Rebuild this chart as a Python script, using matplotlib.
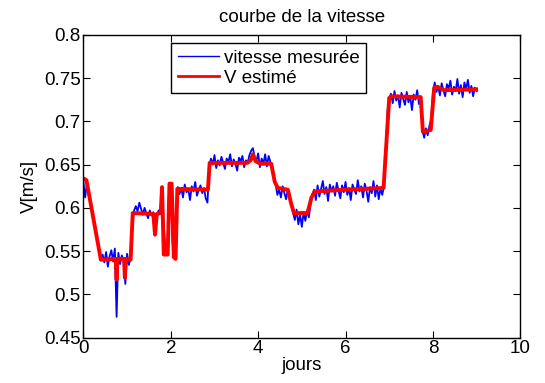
import numpy as np
import matplotlib
matplotlib.use("Agg")
import matplotlib.pyplot as plt

plt.rcParams['font.family'] = ['Liberation Sans', 'DejaVu Sans']

# Measured speed, one sample every 0.04 day
dt = 0.04
vitesse_mesuree = [
    0.630, 0.612, 0.628, 0.618, 0.607, 0.596, 0.584, 0.572, 0.562, 0.550,
    0.541, 0.546, 0.537, 0.549, 0.532, 0.544, 0.551, 0.538, 0.553, 0.474,
    0.548, 0.535, 0.545, 0.539, 0.512, 0.547, 0.534, 0.542, 0.578, 0.597,
    0.602, 0.596, 0.606, 0.599, 0.592, 0.600, 0.594, 0.588, 0.597, 0.591,
    0.595, 0.570, 0.589, 0.597, 0.593, 0.622, 0.580, 0.550, 0.548, 0.620,
    0.626, 0.560, 0.543, 0.600, 0.624, 0.616, 0.623, 0.612, 0.627, 0.618,
    0.622, 0.609, 0.625, 0.619, 0.630, 0.614, 0.621, 0.626, 0.617, 0.623,
    0.611, 0.606, 0.648, 0.657, 0.650, 0.661, 0.646, 0.655, 0.649, 0.659,
    0.652, 0.645, 0.657, 0.653, 0.662, 0.648, 0.656, 0.651, 0.643, 0.658,
    0.654, 0.660, 0.647, 0.655, 0.652, 0.661, 0.666, 0.669, 0.659, 0.654,
    0.663, 0.647, 0.657, 0.651, 0.662, 0.648, 0.660, 0.653, 0.645, 0.636,
    0.627, 0.615, 0.621, 0.612, 0.625, 0.617, 0.610, 0.622, 0.614, 0.603,
    0.594, 0.586, 0.598, 0.581, 0.592, 0.578, 0.595, 0.585, 0.597, 0.589,
    0.604, 0.616, 0.621, 0.609, 0.626, 0.613, 0.622, 0.631, 0.616, 0.624,
    0.608, 0.627, 0.619, 0.625, 0.614, 0.629, 0.620, 0.611, 0.626, 0.618,
    0.630, 0.615, 0.623, 0.609, 0.627, 0.621, 0.616, 0.632, 0.619, 0.625,
    0.612, 0.628, 0.620, 0.607, 0.624, 0.617, 0.631, 0.613, 0.626, 0.610,
    0.623, 0.615, 0.625, 0.665, 0.712, 0.727, 0.732, 0.721, 0.735, 0.724,
    0.730, 0.716, 0.733, 0.726, 0.719, 0.734, 0.722, 0.729, 0.713, 0.731,
    0.725, 0.736, 0.720, 0.727, 0.690, 0.681, 0.692, 0.684, 0.695, 0.702,
    0.733, 0.745, 0.734, 0.741, 0.730, 0.744, 0.736, 0.729, 0.743, 0.738,
    0.747, 0.731, 0.740, 0.735, 0.749, 0.732, 0.742, 0.728, 0.745, 0.737,
    0.748, 0.733, 0.741, 0.729, 0.739, 0.735,
]
jours_mesure = np.arange(len(vitesse_mesuree)) * dt

# Estimated speed (breakpoints of the estimator output)
jours_estime = [
    0.00, 0.07, 0.40, 0.74, 0.76, 0.78, 0.93, 0.95, 0.97, 1.08,
    1.13, 1.60, 1.64, 1.68, 1.77, 1.80, 1.84, 1.93, 1.97, 2.02,
    2.07, 2.11, 2.15, 2.85, 2.89, 3.75, 3.83, 3.88, 3.94, 4.05,
    4.30, 4.38, 4.45, 4.68, 4.75, 4.82, 5.13, 5.22, 5.30, 6.00,
    6.87, 7.00, 7.05, 7.72, 7.77, 7.95, 8.03, 8.10, 8.25, 8.99,
]
v_estime = [
    0.634, 0.632, 0.540, 0.541, 0.517, 0.541, 0.541, 0.519, 0.541, 0.540,
    0.594, 0.593, 0.569, 0.593, 0.594, 0.624, 0.546, 0.546, 0.628, 0.628,
    0.543, 0.541, 0.622, 0.621, 0.652, 0.652, 0.655, 0.662, 0.654, 0.651,
    0.651, 0.630, 0.623, 0.621, 0.606, 0.594, 0.594, 0.612, 0.619, 0.621,
    0.623, 0.727, 0.729, 0.728, 0.688, 0.690, 0.739, 0.740, 0.736, 0.737,
]

xticks = [0, 2, 4, 6, 8, 10]
yticks = [0.45, 0.5, 0.55, 0.6, 0.65, 0.7, 0.75, 0.8]
ytick_labels = ['0.45', '0.5', '0.55', '0.6', '0.65', '0.7', '0.75', '0.8']

fs = 13.5
fig = plt.figure(figsize=(5.45, 3.83), dpi=100)
ax = fig.add_axes([0.153, 0.1185, 0.8017, 0.7905])

ax.plot(jours_mesure, vitesse_mesuree, color=(0, 0, 1), lw=1.3,
        label='vitesse mesurée')
ax.plot(jours_estime, v_estime, color=(1, 0, 0), lw=2.8,
        label='V estimé', solid_joinstyle='round')

ax.set_xlim(0, 10)
ax.set_ylim(0.45, 0.8)
ax.set_xticks(xticks)
ax.set_xticklabels([str(t) for t in xticks], fontsize=fs)
ax.set_yticks(yticks)
ax.set_yticklabels(ytick_labels, fontsize=fs)
ax.tick_params(direction='in', top=True, right=True, length=5, width=0.8,
               pad=2)
for s in ax.spines.values():
    s.set_linewidth(1.0)

ax.set_title('courbe de la vitesse', fontsize=fs, pad=9)
ax.set_xlabel('jours', fontsize=fs, labelpad=0)
ax.set_ylabel('V[m/s]', fontsize=fs, labelpad=4)

leg = ax.legend(loc='upper left', bbox_to_anchor=(171 / 545, 1 - 43.3 / 383),
                bbox_transform=fig.transFigure, borderaxespad=0,
                fancybox=False, shadow=False, fontsize=fs,
                handlelength=2.2, handletextpad=0.25, labelspacing=0.15,
                borderpad=0.35, framealpha=1)
leg.get_frame().set_edgecolor('black')
leg.get_frame().set_linewidth(1.0)
leg.get_lines()[0].set_linewidth(1.0)
leg.get_lines()[1].set_linewidth(2.0)

fig.savefig('out.png', dpi=100)
